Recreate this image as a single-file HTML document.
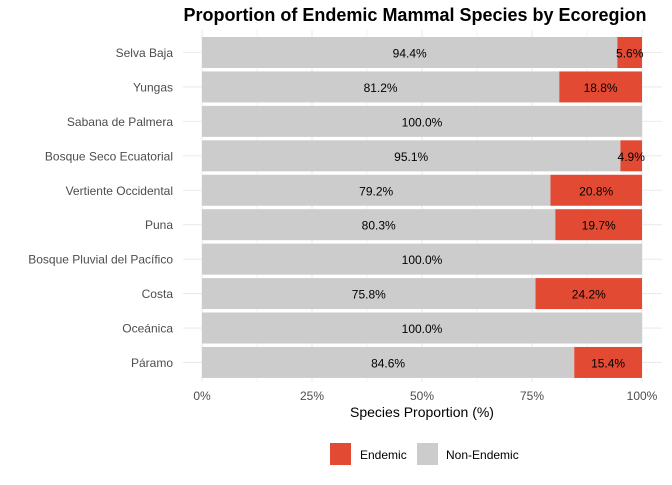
<!DOCTYPE html>
<html><head><meta charset="utf-8"><style>
body{margin:0;background:#fff}
svg text{font-family:"Liberation Sans",sans-serif}
</style></head><body>
<svg width="672" height="480" xmlns="http://www.w3.org/2000/svg">
<rect width="672" height="480" fill="#fff"/>
<text x="415" y="21" font-size="18" font-weight="bold" text-anchor="middle" fill="#000">Proportion of Endemic Mammal Species by Ecoregion</text>
<g stroke="#ebebeb">
<line x1="257" y1="30" x2="257" y2="382" stroke-width="0.6"/>
<line x1="367" y1="30" x2="367" y2="382" stroke-width="0.6"/>
<line x1="477" y1="30" x2="477" y2="382" stroke-width="0.6"/>
<line x1="587" y1="30" x2="587" y2="382" stroke-width="0.6"/>
<line x1="202" y1="30" x2="202" y2="382" stroke-width="1.1"/>
<line x1="312" y1="30" x2="312" y2="382" stroke-width="1.1"/>
<line x1="422" y1="30" x2="422" y2="382" stroke-width="1.1"/>
<line x1="532" y1="30" x2="532" y2="382" stroke-width="1.1"/>
<line x1="642" y1="30" x2="642" y2="382" stroke-width="1.1"/>
<line x1="183" x2="662" y1="52.5" y2="52.5" stroke-width="1.1"/>
<line x1="183" x2="662" y1="86.94" y2="86.94" stroke-width="1.1"/>
<line x1="183" x2="662" y1="121.38" y2="121.38" stroke-width="1.1"/>
<line x1="183" x2="662" y1="155.82" y2="155.82" stroke-width="1.1"/>
<line x1="183" x2="662" y1="190.26" y2="190.26" stroke-width="1.1"/>
<line x1="183" x2="662" y1="224.7" y2="224.7" stroke-width="1.1"/>
<line x1="183" x2="662" y1="259.14" y2="259.14" stroke-width="1.1"/>
<line x1="183" x2="662" y1="293.58" y2="293.58" stroke-width="1.1"/>
<line x1="183" x2="662" y1="328.02" y2="328.02" stroke-width="1.1"/>
<line x1="183" x2="662" y1="362.46" y2="362.46" stroke-width="1.1"/>
</g>
<g fill="#cccccc">
<rect x="202" y="37" width="415.36" height="31"/>
<rect x="202" y="71.44" width="357.28" height="31"/>
<rect x="202" y="105.88" width="440" height="31"/>
<rect x="202" y="140.32" width="418.44" height="31"/>
<rect x="202" y="174.76" width="348.48" height="31"/>
<rect x="202" y="209.2" width="353.32" height="31"/>
<rect x="202" y="243.64" width="440" height="31"/>
<rect x="202" y="278.08" width="333.52" height="31"/>
<rect x="202" y="312.52" width="440" height="31"/>
<rect x="202" y="346.96" width="372.24" height="31"/>
</g>
<g fill="#e34a33">
<rect x="617.36" y="37" width="24.64" height="31"/>
<rect x="559.28" y="71.44" width="82.72" height="31"/>
<rect x="620.44" y="140.32" width="21.56" height="31"/>
<rect x="550.48" y="174.76" width="91.52" height="31"/>
<rect x="555.32" y="209.2" width="86.68" height="31"/>
<rect x="535.52" y="278.08" width="106.48" height="31"/>
<rect x="574.24" y="346.96" width="67.76" height="31"/>
</g>
<g font-size="12" fill="#000" text-anchor="middle">
<text x="409.7" y="57.5">94.4%</text><text x="629.7" y="57.5">5.6%</text>
<text x="380.6" y="91.9">81.2%</text><text x="600.6" y="91.9">18.8%</text>
<text x="422" y="126.4">100.0%</text>
<text x="411.2" y="160.8">95.1%</text><text x="631.2" y="160.8">4.9%</text>
<text x="376.2" y="195.3">79.2%</text><text x="596.2" y="195.3">20.8%</text>
<text x="378.7" y="229.7">80.3%</text><text x="598.7" y="229.7">19.7%</text>
<text x="422" y="264.1">100.0%</text>
<text x="368.8" y="298.6">75.8%</text><text x="588.8" y="298.6">24.2%</text>
<text x="422" y="333">100.0%</text>
<text x="388.1" y="367.5">84.6%</text><text x="608.1" y="367.5">15.4%</text>
</g>
<g font-size="12" fill="#4d4d4d" text-anchor="end">
<text x="173" y="57">Selva Baja</text>
<text x="173" y="91.4">Yungas</text>
<text x="173" y="125.9">Sabana de Palmera</text>
<text x="173" y="160.3">Bosque Seco Ecuatorial</text>
<text x="173" y="194.8">Vertiente Occidental</text>
<text x="173" y="229.2">Puna</text>
<text x="173" y="263.6">Bosque Pluvial del Pacífico</text>
<text x="173" y="298.1">Costa</text>
<text x="173" y="332.5">Oceánica</text>
<text x="173" y="367">Páramo</text>
</g>
<g font-size="12" fill="#4d4d4d" text-anchor="middle">
<text x="202" y="400">0%</text><text x="312" y="400">25%</text><text x="422" y="400">50%</text><text x="532" y="400">75%</text><text x="642" y="400">100%</text>
</g>
<text x="422" y="417" font-size="14" text-anchor="middle" fill="#000">Species Proportion (%)</text>
<rect x="330" y="443" width="21" height="22" fill="#e34a33"/>
<text x="360" y="459" font-size="12" fill="#000">Endemic</text>
<rect x="417" y="443" width="21" height="22" fill="#cccccc"/>
<text x="446" y="459" font-size="12" fill="#000">Non-Endemic</text>
</svg>
</body></html>
